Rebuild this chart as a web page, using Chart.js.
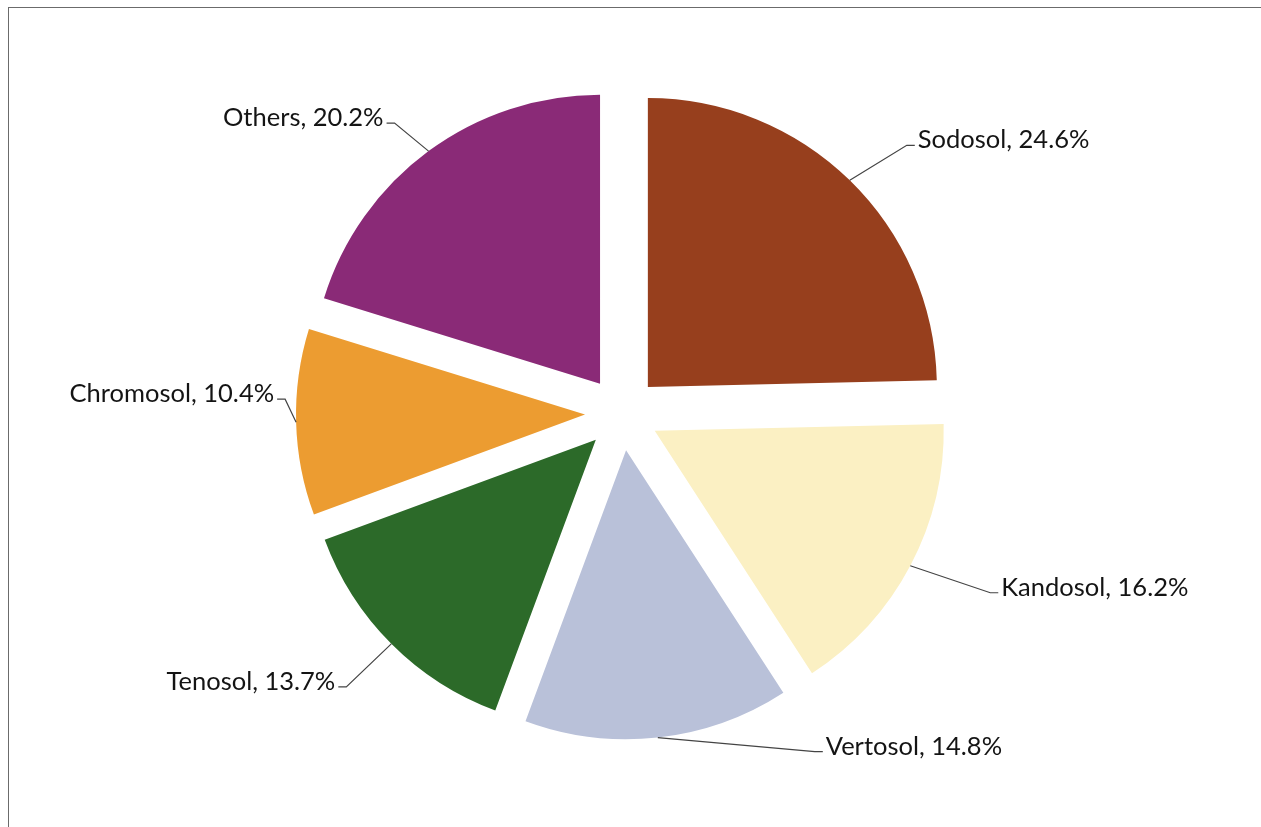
<!DOCTYPE html>
<html>
<head>
<meta charset="utf-8">
<title>Soil orders</title>
<script src="https://cdn.jsdelivr.net/npm/chart.js@4/dist/chart.umd.min.js"></script>
<style>
  html, body { margin: 0; padding: 0; background: #fff; }
  #wrap { position: relative; width: 1261px; height: 827px; }
  #frame { position: absolute; left: 8px; top: 7px; right: 0; bottom: 0;
           border-left: 1px solid #6b6b6b; border-top: 1px solid #6b6b6b; }
  canvas { position: absolute; left: 0; top: 0; }
</style>
</head>
<body>
<div id="wrap">
  <div id="frame"></div>
  <canvas id="soilChart" width="1261" height="827"></canvas>
</div>
<script>
const soilNames = ['Sodosol', 'Kandosol', 'Vertosol', 'Tenosol', 'Chromosol', 'Others'];
const soilShares = [24.6, 16.2, 14.8, 13.7, 10.4, 20.2];
const soilColors = ['#973f1d', '#fbf0c3', '#b9c1d9', '#2c6a29', '#ec9c31', '#8a2a77'];

// where each label's leader line bends, relative to the point on the slice edge
const labelNudges = [[57, -35], [80, 27], [157, 14], [-45, 43], [-11, -23], [-34, -28]];
const explode = 37;

const explodedPie = {
  id: 'explodedPie',
  beforeDatasetDraw(chart, args) {
    const ctx = chart.ctx;
    args.meta.data.forEach(arc => {
      const mid = (arc.startAngle + arc.endAngle) / 2;
      ctx.save();
      ctx.translate(Math.cos(mid) * explode, Math.sin(mid) * explode);
      arc.draw(ctx);
      ctx.restore();
    });
    return false;
  }
};

const leaderLabels = {
  id: 'leaderLabels',
  afterDatasetsDraw(chart) {
    const ctx = chart.ctx;
    const meta = chart.getDatasetMeta(0);
    ctx.save();
    ctx.font = '25.5px Lato';
    ctx.fillStyle = '#141414';
    ctx.strokeStyle = '#444';
    ctx.lineWidth = 1.2;
    meta.data.forEach((arc, i) => {
      const mid = (arc.startAngle + arc.endAngle) / 2;
      const r = arc.outerRadius + explode;
      const ax = arc.x + Math.cos(mid) * r;
      const ay = arc.y + Math.sin(mid) * r;
      const [dx, dy] = labelNudges[i];
      const ex = ax + dx, ey = ay + dy;
      const dir = dx >= 0 ? 1 : -1;
      const tx = ex + dir * 8;
      ctx.beginPath();
      ctx.moveTo(ax, ay);
      ctx.lineTo(ex, ey);
      ctx.lineTo(tx, ey);
      ctx.stroke();
      ctx.textAlign = dir > 0 ? 'left' : 'right';
      ctx.textBaseline = 'alphabetic';
      ctx.fillText(soilNames[i] + ', ' + soilShares[i].toFixed(1) + '%', tx + dir * 3, ey + 3);
    });
    ctx.restore();
  }
};

new Chart(document.getElementById('soilChart').getContext('2d'), {
  type: 'pie',
  data: {
    labels: soilNames,
    datasets: [{
      data: soilShares,
      backgroundColor: soilColors,
      borderWidth: 0
    }]
  },
  options: {
    responsive: false,
    animation: false,
    radius: 289,
    layout: { padding: { left: 0, right: 17, top: 0, bottom: 0 } },
    plugins: { legend: { display: false }, tooltip: { enabled: false } }
  },
  plugins: [explodedPie, leaderLabels]
});
</script>
</body>
</html>
